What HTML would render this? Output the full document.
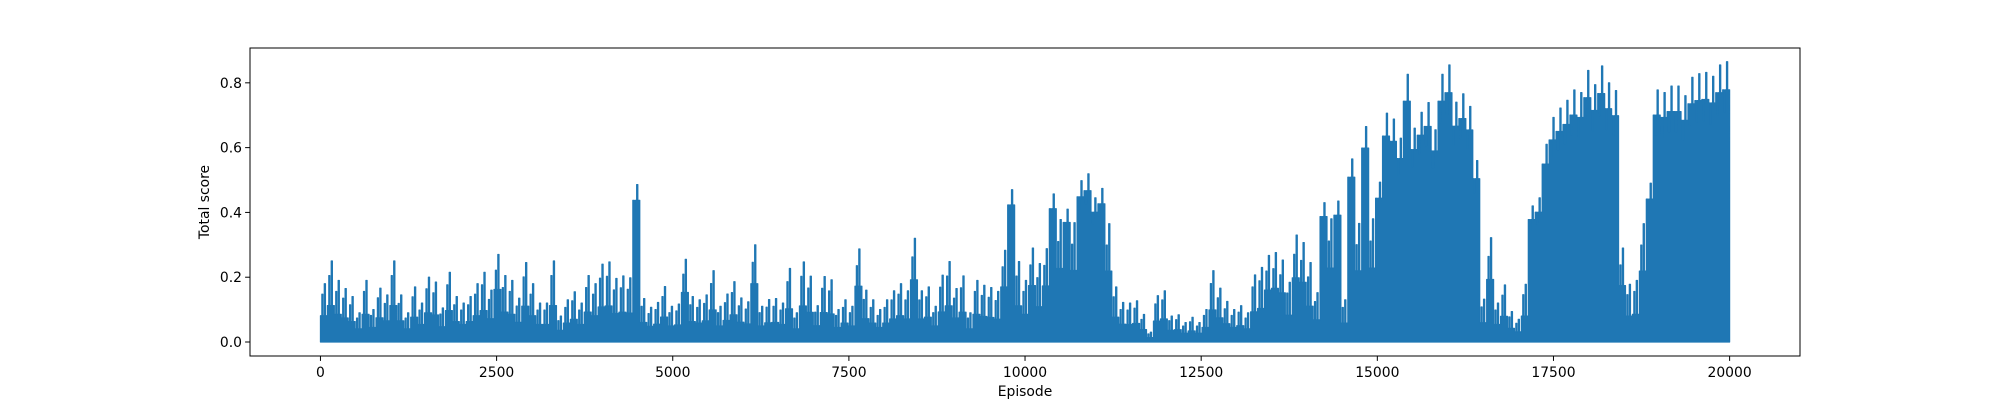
<!DOCTYPE html>
<html><head><meta charset="utf-8"><style>
html,body{margin:0;padding:0;background:#fff;}
svg{display:block;font-family:"DejaVu Sans","Liberation Sans",sans-serif;}
</style></head><body>
<svg id="chart" width="2000" height="400" viewBox="0 0 2000 400" xmlns="http://www.w3.org/2000/svg">
<rect width="2000" height="400" fill="#fff"/>
<g id="plot"></g>
<g id="axes"></g>
</svg>
<script>
const xTicks = [0, 2500, 5000, 7500, 10000, 12500, 15000, 17500, 20000];
const xTickLabels = ["0", "2500", "5000", "7500", "10000", "12500", "15000", "17500", "20000"];
const yTicks = [0.0, 0.2, 0.4, 0.6, 0.8];
const yTickLabels = ["0.0", "0.2", "0.4", "0.6", "0.8"];
const totalEpisodes = 20000;
const peakScores = [
0.18,0.25,0.19,0.165,0.14,0.09,0.19,0.10,0.166,0.145,0.25,0.145,0.09,0.17,0.12,0.20,0.185,0.105,0.215,0.14,0.12,0.14,0.18,0.215,0.16,0.27,0.205,0.19,0.135,0.245,0.18,0.12,0.12,0.25,0.08,0.13,0.155,0.12,0.205,0.18,0.24,
0.247,0.196,0.204,0.198,0.486,0.134,0.107,0.122,0.171,0.11,0.117,0.255,0.14,0.13,0.145,0.22,0.11,0.148,0.186,0.136,0.124,0.30,0.11,0.131,0.134,0.12,0.227,0.09,0.247,0.203,0.112,0.202,0.192,0.10,0.13,0.11,0.287,0.16,0.13,0.10,
0.13,0.158,0.18,0.158,0.32,0.158,0.17,0.11,0.206,0.248,0.165,0.204,0.09,0.19,0.175,0.168,0.156,0.283,0.47,0.248,0.19,0.29,0.242,0.288,0.457,0.378,0.41,0.368,0.498,0.519,0.445,0.474,0.365,0.17,0.122,0.12,0.127,0.085,0.03,0.143,0.158,
0.08,0.084,0.06,0.076,0.06,0.1,0.22,0.166,0.125,0.1,0.112,0.09,0.207,0.23,0.267,0.276,0.253,0.184,0.33,0.307,0.245,0.152,0.43,0.38,0.435,0.13,0.565,0.366,0.665,0.38,0.493,0.706,0.688,0.629,0.826,0.66,0.709,0.739,0.655,0.826,
0.855,0.74,0.766,0.727,0.56,0.132,0.322,0.12,0.176,0.094,0.07,0.178,0.42,0.445,0.61,0.693,0.722,0.746,0.778,0.77,0.838,0.794,0.852,0.8,0.776,0.29,0.178,0.19,0.365,0.49,0.778,0.77,0.79,0.79,0.76,0.817,0.828,0.832,0.82,0.855,0.865
];

const L=250, R=1800, T=48, B=356;
const xMin=-999.95, xMax=20998.95, yMin=-0.0432, yMax=0.9075;
function xs(v){return L+(v-xMin)/(xMax-xMin)*(R-L);}
function ys(v){return B-(v-yMin)/(yMax-yMin)*(B-T);}
function baseOf(p){return p>0.4 ? p*0.9 : (p>0.25 ? p*0.6 : p*0.45);}
const NS="http://www.w3.org/2000/svg";
const plot=document.getElementById('plot');
const axes=document.getElementById('axes');

const binW = totalEpisodes/peakScores.length;
let d = "M"+xs(0)+","+ys(0);
peakScores.forEach((p,i)=>{
  const e0=i*binW, e1=(i+1)*binW;
  const base=baseOf(p);
  const x0=xs(e0), x1=xs(e1), w=x1-x0;
  d += " L"+x0+","+ys(base);
  d += " L"+(x0+w*0.2)+","+ys(base);
  d += " L"+(x0+w*0.2)+","+ys(p*0.82);
  d += " L"+(x0+w*0.35)+","+ys(p*0.82);
  d += " L"+(x0+w*0.35)+","+ys(base);
  d += " L"+(x0+w*0.55)+","+ys(base);
  d += " L"+(x0+w*0.55)+","+ys(p);
  d += " L"+(x0+w*0.72)+","+ys(p);
  d += " L"+(x0+w*0.72)+","+ys(base);
  d += " L"+x1+","+ys(base);
});
d += " L"+xs(totalEpisodes)+","+ys(0)+" Z";
const path=document.createElementNS(NS,'path');


path.setAttribute('d', d);
path.setAttribute('fill', '#1f77b4');
path.setAttribute('stroke', '#1f77b4');
path.setAttribute('stroke-width', '1.2');
path.setAttribute('stroke-linejoin', 'round');
plot.appendChild(path);

const frame=document.createElementNS(NS,'rect');


frame.setAttribute('x', L); frame.setAttribute('y', T);
frame.setAttribute('width', R-L); frame.setAttribute('height', B-T);
frame.setAttribute('fill', 'none'); frame.setAttribute('stroke', '#000'); frame.setAttribute('stroke-width', '1');
axes.appendChild(frame);

xTicks.forEach((v,i)=>{
  const x=xs(v);
  const t=document.createElementNS(NS,'line');
  
  
  t.setAttribute('x1',x);t.setAttribute('x2',x);t.setAttribute('y1',B);t.setAttribute('y2',B+4.9);
  t.setAttribute('stroke','#000');
  axes.appendChild(t);
  const tx=document.createElementNS(NS,'text');
  
  
  tx.setAttribute('x',x);tx.setAttribute('y',B+21);
  tx.setAttribute('text-anchor','middle');tx.setAttribute('font-size','13.9');
  tx.textContent=xTickLabels[i];
  axes.appendChild(tx);
});
yTicks.forEach((v,i)=>{
  const y=ys(v);
  const t=document.createElementNS(NS,'line');
  
  
  t.setAttribute('x1',L-4.9);t.setAttribute('x2',L);t.setAttribute('y1',y);t.setAttribute('y2',y);
  t.setAttribute('stroke','#000');
  axes.appendChild(t);
  const tx=document.createElementNS(NS,'text');
  
  
  tx.setAttribute('x',L-8);tx.setAttribute('y',y+5);
  tx.setAttribute('text-anchor','end');tx.setAttribute('font-size','13.9');
  tx.textContent=yTickLabels[i];
  axes.appendChild(tx);
});
const xl=document.createElementNS(NS,'text');


xl.setAttribute('x',(L+R)/2);xl.setAttribute('y',396);
xl.setAttribute('text-anchor','middle');xl.setAttribute('font-size','13.9');
xl.textContent='Episode';
axes.appendChild(xl);
const yl=document.createElementNS(NS,'text');


yl.setAttribute('transform','translate(209,'+((T+B)/2)+') rotate(-90)');
yl.setAttribute('text-anchor','middle');yl.setAttribute('font-size','13.9');
yl.textContent='Total score';
axes.appendChild(yl);
</script>
</body></html>
